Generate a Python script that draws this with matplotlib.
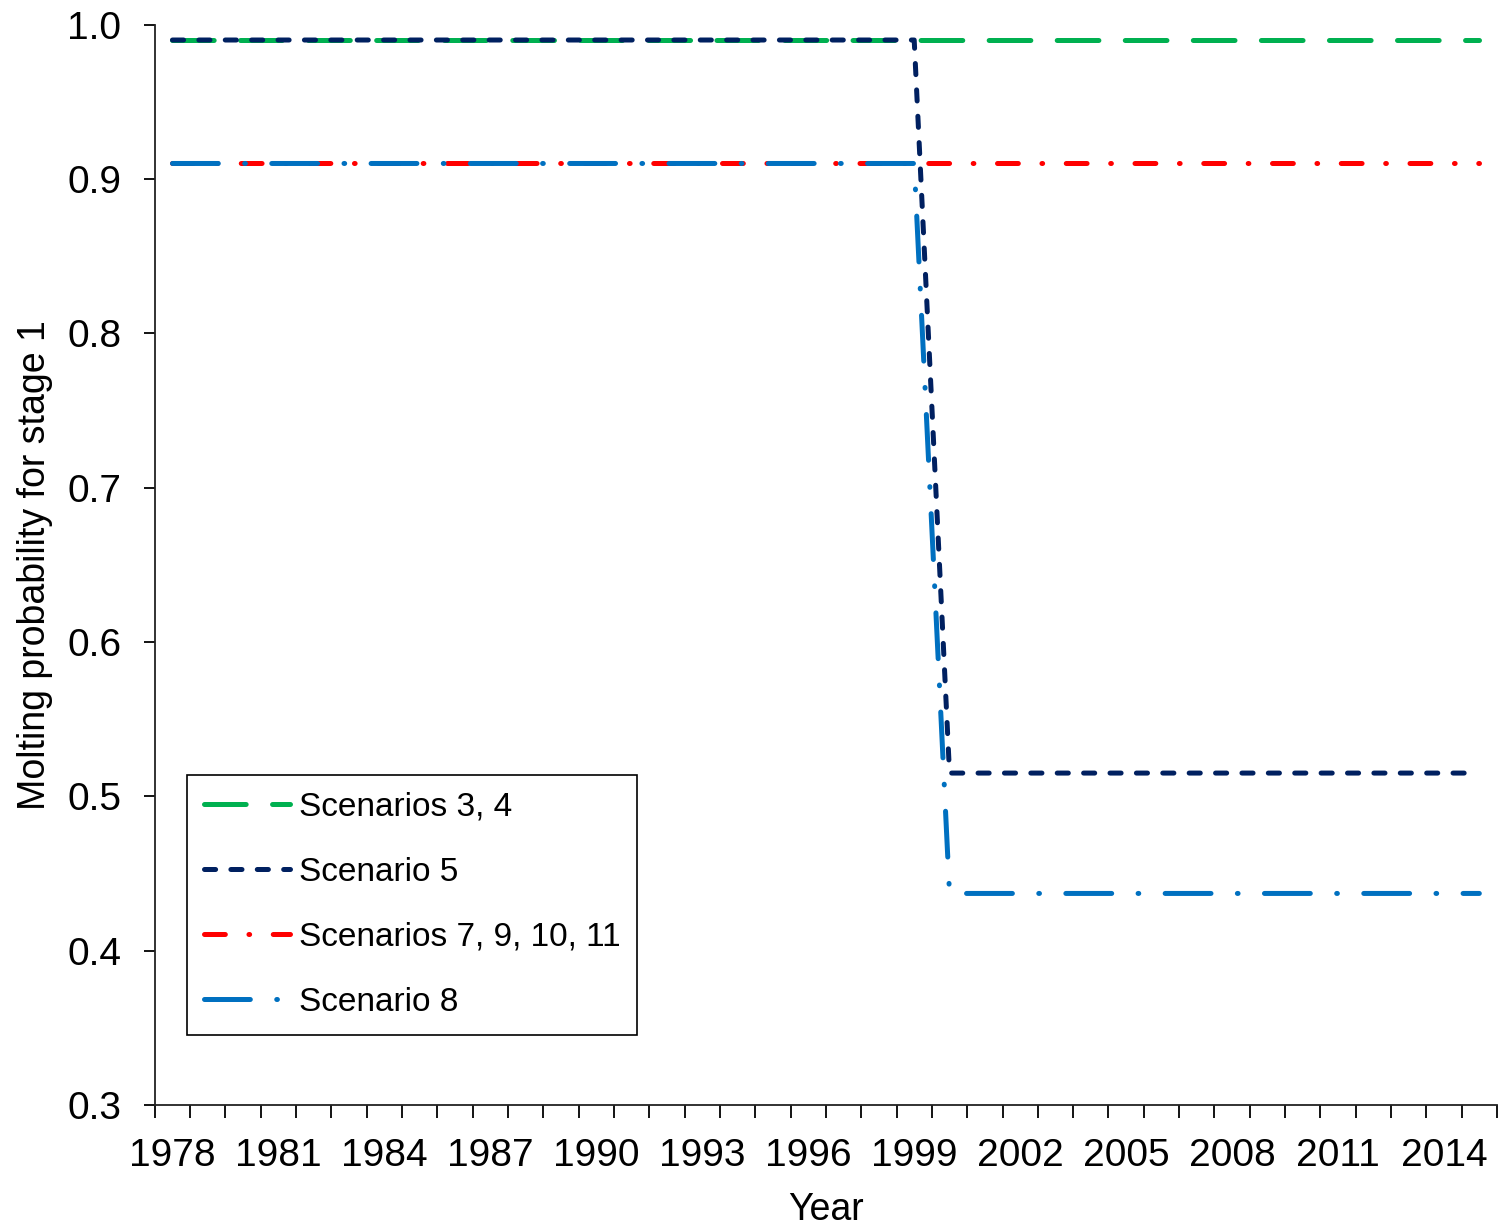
import matplotlib
matplotlib.use("Agg")
import matplotlib.pyplot as plt
import numpy as np

plt.rcParams['font.family'] = ['Liberation Sans', 'DejaVu Sans']
plt.rcParams['lines.scale_dashes'] = False

# data: molting probability for stage 1, 1978-2015
years = list(range(1978, 2016))
scen_3_4 = [0.99, 0.99, 0.99, 0.99, 0.99, 0.99, 0.99, 0.99, 0.99, 0.99,
            0.99, 0.99, 0.99, 0.99, 0.99, 0.99, 0.99, 0.99, 0.99, 0.99,
            0.99, 0.99, 0.99, 0.99, 0.99, 0.99, 0.99, 0.99, 0.99, 0.99,
            0.99, 0.99, 0.99, 0.99, 0.99, 0.99, 0.99, 0.99]
scen_5 = [0.99, 0.99, 0.99, 0.99, 0.99, 0.99, 0.99, 0.99, 0.99, 0.99,
          0.99, 0.99, 0.99, 0.99, 0.99, 0.99, 0.99, 0.99, 0.99, 0.99,
          0.99, 0.99, 0.515, 0.515, 0.515, 0.515, 0.515, 0.515, 0.515, 0.515,
          0.515, 0.515, 0.515, 0.515, 0.515, 0.515, 0.515, 0.515]
scen_7_9_10_11 = [0.91, 0.91, 0.91, 0.91, 0.91, 0.91, 0.91, 0.91, 0.91, 0.91,
                  0.91, 0.91, 0.91, 0.91, 0.91, 0.91, 0.91, 0.91, 0.91, 0.91,
                  0.91, 0.91, 0.91, 0.91, 0.91, 0.91, 0.91, 0.91, 0.91, 0.91,
                  0.91, 0.91, 0.91, 0.91, 0.91, 0.91, 0.91, 0.91]
scen_8 = [0.91, 0.91, 0.91, 0.91, 0.91, 0.91, 0.91, 0.91, 0.91, 0.91,
          0.91, 0.91, 0.91, 0.91, 0.91, 0.91, 0.91, 0.91, 0.91, 0.91,
          0.91, 0.91, 0.437, 0.437, 0.437, 0.437, 0.437, 0.437, 0.437, 0.437,
          0.437, 0.437, 0.437, 0.437, 0.437, 0.437, 0.437, 0.437]

fig = plt.figure(figsize=(15.03, 12.29), dpi=100)
ax = fig.add_axes([0.103, 0.101, 0.893, 0.879])

x = np.arange(len(years))
lw = 3.6
ax.plot(x, scen_3_4, color='#00B050', lw=lw, dashes=(30, 19),
        dash_capstyle='round', label='Scenarios 3, 4')
ax.plot(x, scen_5, color='#002060', lw=lw, dashes=(8, 11),
        dash_capstyle='round', label='Scenario 5')
ax.plot(x, scen_7_9_10_11, color='#FF0000', lw=lw, dashes=(15, 17, 0.5, 17),
        dash_capstyle='round', label='Scenarios 7, 9, 10, 11')
ax.plot(x, scen_8, color='#0070C0', lw=lw, dashes=(33, 19, 0.5, 19),
        dash_capstyle='round', label='Scenario 8')

ax.set_xlim(-0.5, len(years) - 0.5)
ax.set_ylim(0.3, 1.0)
ax.set_yticks(np.arange(0.3, 1.01, 0.1))
ax.set_yticklabels(['%.1f' % v for v in np.arange(0.3, 1.01, 0.1)])
ax.set_xticks(x[::3])
ax.set_xticklabels([str(y) for y in years[::3]])
ax.set_xticks(np.arange(-0.5, len(years), 1.0), minor=True)

ax.tick_params(axis='x', which='major', length=0, labelsize=28, pad=24)
ax.tick_params(axis='x', which='minor', length=9, width=1.3, direction='out')
ax.tick_params(axis='y', length=8, width=1.3, direction='out', labelsize=28, pad=16)

for s in ['top', 'right']:
    ax.spines[s].set_visible(False)
for s in ['left', 'bottom']:
    ax.spines[s].set_linewidth(1.3)
    ax.spines[s].set_color('#222222')

ax.set_xlabel('Year', fontsize=27, labelpad=13)
ax.set_ylabel('Molting probability for stage 1', fontsize=27, labelpad=10)

leg = ax.legend(loc='lower left', bbox_to_anchor=(0.024, 0.065), fontsize=24,
                handlelength=2.6, handletextpad=0.25, labelspacing=1.02,
                borderpad=0.5, fancybox=False, framealpha=1, borderaxespad=0)
leg.get_frame().set_edgecolor('black')
leg.get_frame().set_linewidth(1.2)

fig.savefig('out.png', dpi=100)
